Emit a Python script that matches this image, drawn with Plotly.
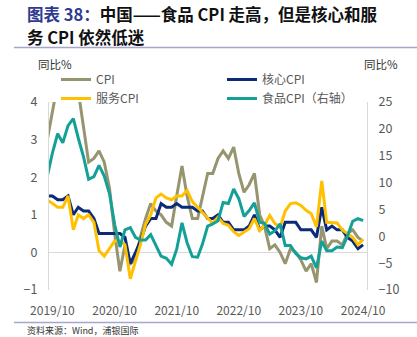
import plotly.graph_objects as go
import pandas as pd

# ---------------- data (monthly, 2019/09 - 2024/10) ----------------
months = pd.date_range("2019-09-01", "2024-10-01", freq="MS")

cpi = [3.0, 3.8, 4.5, 4.5,
       5.4, 5.2, 4.3, 3.3, 2.4, 2.5, 2.7, 2.4, 1.7, 0.5, -0.5, 0.2,
       -0.3, -0.2, 0.4, 0.9, 1.3, 1.1, 1.0, 0.8, 0.7, 1.5, 2.3, 1.5,
       0.9, 0.9, 1.5, 2.1, 2.1, 2.5, 2.7, 2.5, 2.8, 2.1, 1.6, 1.8,
       2.1, 1.0, 0.7, 0.1, 0.2, 0.0, -0.3, 0.1, 0.0, -0.2, -0.5, -0.3,
       -0.8, 0.7, 0.1, 0.3, 0.3, 0.2, 0.5, 0.6, 0.4, 0.3]

core_cpi = [1.5, 1.5, 1.4, 1.4,
            1.5, 1.0, 1.2, 1.1, 1.1, 0.9, 0.5, 0.5, 0.5, 0.5, 0.5, 0.4,
            -0.3, 0.0, 0.3, 0.7, 0.9, 0.9, 1.3, 1.2, 1.2, 1.3, 1.2, 1.2,
            1.2, 1.1, 1.1, 0.9, 0.9, 1.0, 0.8, 0.8, 0.6, 0.6, 0.6, 0.7,
            1.0, 0.6, 0.7, 0.7, 0.6, 0.4, 0.8, 0.8, 0.8, 0.6, 0.6, 0.6,
            0.4, 1.2, 0.6, 0.7, 0.6, 0.6, 0.4, 0.3, 0.1, 0.2]

service_cpi = [1.4, 1.3, 1.2, 1.2,
               1.5, 0.6, 1.0, 0.9, 1.0, 0.8, 0.05, -0.1, 0.1, 0.3, 0.3, 0.2,
               -0.7, -0.25, 0.2, 0.75, 1.0, 1.45, 1.55, 1.45, 1.4, 1.5, 1.5, 1.65,
               1.35, 1.2, 1.07, 0.9, 0.77, 0.94, 0.77, 0.72, 0.55, 0.45, 0.54, 0.63,
               0.9, 0.58, 0.72, 0.98, 0.77, 0.67, 1.1, 1.3, 1.32, 1.25, 1.12, 1.03,
               0.68, 1.9, 0.8, 0.8, 0.78, 0.6, 0.5, 0.4, 0.2, 0.35]

food_cpi = [11.2, 15.5, 19.1, 17.4,
            20.6, 21.9, 18.3, 14.8, 10.6, 11.1, 13.2, 11.2, 7.9, 2.2, -2.0, 1.2,
            1.6, -0.2, -0.7, -0.7, 0.3, -1.7, -3.7, -4.1, -5.2, -2.4, 2.5, -1.2,
            -3.8, -3.9, -1.5, 1.9, 2.3, 2.9, 6.3, 6.1, 8.8, 7.0, 3.7, 4.8,
            6.2, 2.6, 2.4, 0.4, 1.0, 2.3, -1.7, -1.7, -3.2, -4.0, -4.2, -3.7,
            -5.9, -0.9, -2.7, -2.7, -2.0, -2.1, 0.0, 2.8, 3.3, 2.9]

x_tick_dates = ["2019-10-01", "2020-10-01", "2021-10-01", "2022-10-01", "2023-10-01", "2024-10-01"]
x_tick_labels = ["2019/10", "2020/10", "2021/10", "2022/10", "2023/10", "2024/10"]
left_ticks = [-1, 0, 1, 2, 3, 4]
right_ticks = [-10, -5, 0, 5, 10, 15, 20, 25]

# ---------------- layout geometry (pixels) ----------------
W, H = 417, 337
L, R, T, B = 49, 367, 102, 290


def px(x):
    return (x - L) / (R - L)


def py(y):
    return (B - y) / (B - T)


FONT = "Noto Sans CJK SC"
GRAY = "#595959"

fig = go.Figure()
fig.add_trace(go.Scatter(x=months, y=cpi, name="CPI", mode="lines",
                         line=dict(color="#96956F", width=3), legend="legend"))
fig.add_trace(go.Scatter(x=months, y=core_cpi, name="核心CPI", mode="lines",
                         line=dict(color="#0B2A7A", width=3), legend="legend2"))
fig.add_trace(go.Scatter(x=months, y=service_cpi, name="服务CPI", mode="lines",
                         line=dict(color="#FFC000", width=3), legend="legend"))
fig.add_trace(go.Scatter(x=months, y=food_cpi, name="食品CPI（右轴）", mode="lines",
                         line=dict(color="#14A096", width=3), yaxis="y2", legend="legend2"))

legend_common = dict(orientation="v", xanchor="left", yanchor="top",
                     bgcolor="rgba(0,0,0,0)", borderwidth=0, itemwidth=30,
                     font=dict(family=FONT, size=12, color=GRAY), tracegroupgap=0)

fig.update_layout(
    width=W, height=H,
    margin=dict(l=L, r=W - R, t=T, b=H - B, pad=0),
    paper_bgcolor="white", plot_bgcolor="white",
    font=dict(family=FONT, color=GRAY),
    showlegend=True,
    legend=dict(x=px(56), y=py(65), **legend_common),
    legend2=dict(x=px(222), y=py(65), **legend_common),
    xaxis=dict(type="date", range=["2019-09-11", "2024-10-24"],
               tickvals=x_tick_dates, ticktext=x_tick_labels,
               showgrid=False, showline=False, zeroline=False, ticks="",
               ticklabelstandoff=12,
               tickfont=dict(family=FONT, size=12, color=GRAY)),
    yaxis=dict(range=[-1, 4], tickvals=left_ticks, showgrid=False,
               zeroline=True, zerolinecolor="#D9D9D9", zerolinewidth=1,
               showline=True, linecolor="#D9D9D9", linewidth=1, ticks="",
               ticklabelstandoff=8,
               tickfont=dict(family=FONT, size=12.5, color=GRAY)),
    yaxis2=dict(range=[-10, 25], tickvals=right_ticks, overlaying="y", side="right",
                showgrid=False, zeroline=False, showline=True, linecolor="#D9D9D9",
                linewidth=1, ticks="", ticklabelstandoff=8,
                tickfont=dict(family=FONT, size=12.5, color=GRAY)),
)

annotations = [
    dict(text="<b><span style='color:#2E3A8F'>图表 38：</span>中国——食品 CPI 走高，但是核心和服</b>",
         x=px(25), y=py(14), xanchor="left", yanchor="middle",
         font=dict(family=FONT, size=16.5, color="#111111")),
    dict(text="<b>务 CPI 依然低迷</b>",
         x=px(25), y=py(37), xanchor="left", yanchor="middle",
         font=dict(family=FONT, size=16.5, color="#111111")),
    dict(text="同比%", x=px(55), y=py(64), xanchor="center", yanchor="middle",
         font=dict(family=FONT, size=11.5, color="#333333")),
    dict(text="同比%", x=px(381), y=py(64), xanchor="center", yanchor="middle",
         font=dict(family=FONT, size=11.5, color="#333333")),
    dict(text="资料来源：Wind，浦银国际", x=px(25), y=py(330.5), xanchor="left", yanchor="middle",
         font=dict(family=FONT, size=9, color="#333333")),
]
for a in annotations:
    a.update(xref="paper", yref="paper", showarrow=False)
fig.update_layout(annotations=annotations)

fig.update_layout(shapes=[
    dict(type="line", xref="paper", yref="paper", x0=px(14), x1=px(417), y0=py(47.5), y1=py(47.5),
         line=dict(color="#A6A6CC", width=1.5)),
    dict(type="line", xref="paper", yref="paper", x0=px(14), x1=px(417), y0=py(322.5), y1=py(322.5),
         line=dict(color="#A6A6CC", width=1.5)),
])

fig.write_html("out.html")
